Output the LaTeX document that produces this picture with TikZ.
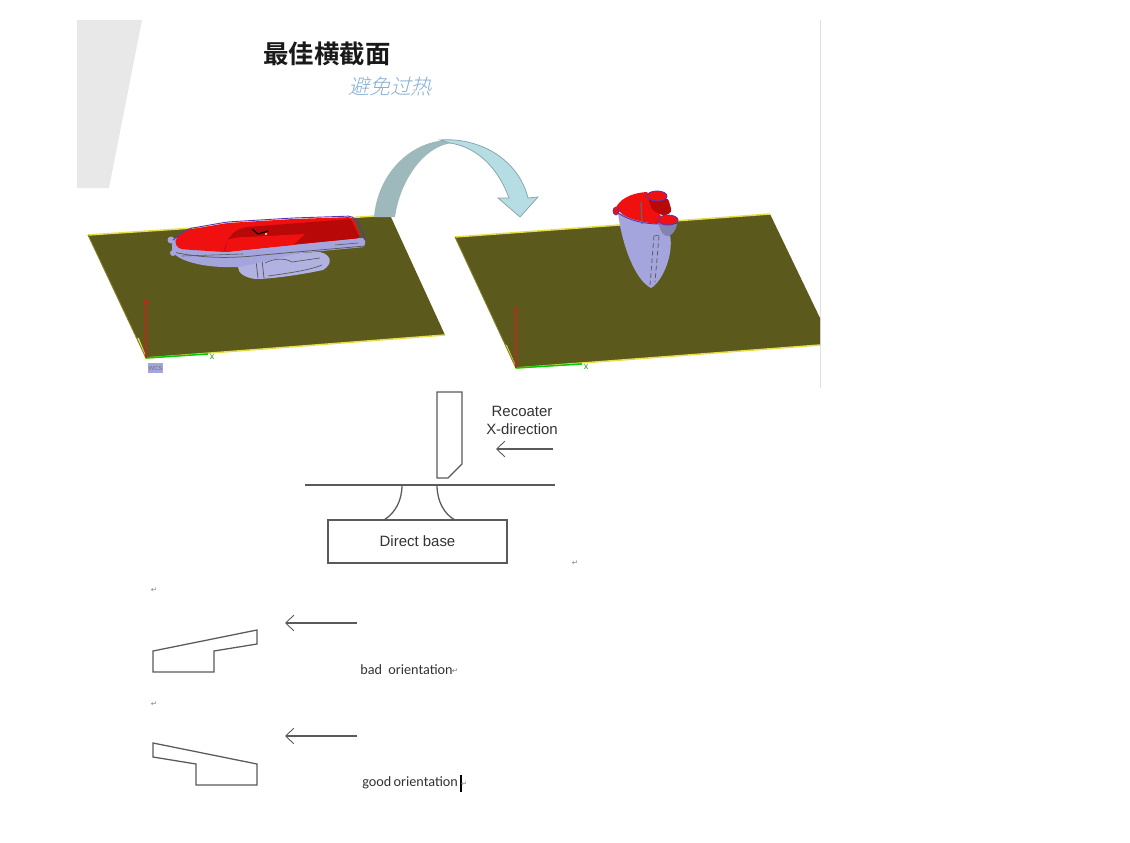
\documentclass[tikz,border=0pt]{standalone}
\usepackage{fontspec}
\setmainfont{Liberation Sans}
\newfontfamily\cjkbold[BoldFont=Noto Sans CJK SC Bold]{Noto Sans CJK SC}
\newfontfamily\cjkslant[FakeSlant=0.25]{Noto Sans CJK SC Light}
\newfontfamily\wordfont{Carlito}
\newfontfamily\markfont{DejaVu Sans}
\usetikzlibrary{arrows.meta}
\definecolor{plateolive}{HTML}{5C591C}
\definecolor{edgeyellow}{HTML}{E4DE4A}
\definecolor{hullred}{HTML}{F01010}
\definecolor{deepred}{HTML}{B80808}
\definecolor{hulllav}{HTML}{A3A5DC}
\definecolor{rimblue}{HTML}{5A35B0}
\definecolor{darkband}{HTML}{9DB9BB}
\definecolor{lightband}{HTML}{B6DDE4}
\definecolor{bandedge}{HTML}{86A5AA}
\definecolor{subblue}{HTML}{86AED3}
\definecolor{linegray}{HTML}{5A5A5A}
\definecolor{axisred}{HTML}{B03020}
\tikzset{
  outline/.style={draw=linegray,line width=0.85pt},
  pushline/.style={draw=linegray,line width=0.75pt,-{Straight Barb[length=5.5pt,width=10.5pt,line width=0.6pt]}},
  plateedge/.style={edgeyellow,line width=1pt},
  retmark/.style={font=\markfont\fontsize{5}{6}\selectfont,text=gray,inner sep=0pt},
  caption/.style={font=\wordfont\fontsize{9.5}{11}\selectfont,text=black!80,inner sep=0pt},
  sketchtext/.style={inner sep=0pt,text=black!80},
}
\begin{document}
\begin{tikzpicture}[x=0.0235cm,y=-0.0235cm,font=\fontsize{10}{12}\selectfont]
  \useasboundingbox (0,0) rectangle (1130,843);
  \fill[white] (0,0) rectangle (1130,843);
  % slide leftovers
  \fill[black!9] (77,20)--(142,20)--(109,188)--(77,188)--cycle;
  \draw[black!12,line width=0.6pt] (820.5,20)--(820.5,388);
  \node[font=\cjkbold\bfseries\fontsize{17}{20}\selectfont,text=black!90] (headline) at (327,54) {最佳横截面};
  \node[font=\cjkslant\fontsize{14}{16}\selectfont,text=subblue] (subhead) at (390,87) {避免过热};
  % left plate
  \fill[plateolive] (88,235)--(390,215)--(445,335)--(146,358)--cycle;
  \draw[plateedge] (88,235)--(390,215);
  \draw[plateedge] (445,335)--(146,358)--(138,338);
  \draw[plateolive!70!edgeyellow,line width=0.6pt] (88,235)--(146,358);
  \draw[green!80!black,line width=1pt] (146,358)--(208,354);
  \draw[axisred,line width=0.8pt] (146,358)--(146,303);
  \fill[axisred] (143,303)--(149,303)--(146,298)--cycle;
  \node[text=green!70!black,font=\fontsize{6}{7}\selectfont,inner sep=0pt] (xleft) at (212,357) {x};
  \node[fill=hulllav,text=black!55,font=\fontsize{4}{5}\selectfont,inner sep=0pt,minimum width=10pt,minimum height=6.5pt] (wcsbox) at (155.5,368) {WCS};
  % flat part
  \fill[hulllav!85!white] (238,267) .. controls (244,259) and (300,252) .. (320,252)
    .. controls (332,255) and (333,264) .. (323,270) .. controls (300,275) and (270,279) .. (256,279)
    .. controls (245,278) and (238,273) .. (238,267)--cycle;
  \draw[linegray,line width=0.5pt] (256,261)--(258,278) (262,260)--(264,278);
  \draw[linegray,line width=0.45pt] (265,263) .. controls (275,258) and (285,258) .. (292,262)--(320,258)
    (268,276) .. controls (290,273) and (310,270) .. (322,265);
  \fill[hulllav,rounded corners=2pt] (172,252) .. controls (183,262) and (205,268) .. (240,267)--(300,253)--(365,247)--(365,238)--(172,238)--cycle;
  \draw[linegray,line width=0.5pt] (173,252) .. controls (200,258) and (230,259) .. (262,255)--(365,246);
  \draw[linegray,line width=0.4pt] (182,256)--(243,254) (335,245)--(358,243);
  \fill[hulllav] (171,240) circle (3.5) (173,253) circle (3);
  \fill[hullred,rounded corners=3pt] (174,240)--(187,230)--(227,223)--(293,219)--(353,217)--(361,238)--(270,247)--(224,252)--(178,249)--cycle;
  \fill[deepred,rounded corners=1pt] (224,252) .. controls (226,240) and (232,230) .. (247,227)--(351,219)--(360,238)--(270,247)--cycle;
  \fill[hullred] (227,240) .. controls (232,238) and (240,237) .. (247,237)--(305,234)--(293,245)--(225,252)--cycle;
  \draw[rimblue,line width=0.6pt,rounded corners=3pt] (173,240)--(187,229)--(227,222)--(293,218)--(353,216)--(362,230)--(365,240);
  \draw[black,line width=0.8pt] (252,229)--(258,234)--(268,231);
  \fill[white] (266,234) circle (1.2);
  % right plate
  \fill[plateolive] (455,237)--(770,214)--(820,318)--(820,345)--(516,368)--cycle;
  \draw[plateedge] (455,237)--(770,214);
  \draw[plateedge] (820,345)--(516,368)--(506,345);
  \draw[plateolive!70!edgeyellow,line width=0.6pt] (455,237)--(516,368);
  \draw[green!80!black,line width=1pt] (516,368)--(582,364);
  \draw[axisred,line width=0.7pt] (516,368)--(516,311);
  \fill[axisred] (514,311)--(518,311)--(516,306)--cycle;
  \node[text=green!70!black,font=\fontsize{6}{7}\selectfont,inner sep=0pt] (xright) at (586,367) {x};
  % upright part
  \fill[hulllav] (618,213) .. controls (622,245) and (635,280) .. (651,288)
    .. controls (662,282) and (674,255) .. (670,235)--(660,220)--cycle;
  \draw[linegray,line width=0.5pt,densely dashed] (654,236)--(650,285) (659,236)--(655,282);
  \draw[linegray,line width=0.4pt] (654,236)--(659,235);
  \fill[hulllav!80!black] (659,224) .. controls (660,232) and (664,237) .. (669,236) .. controls (673,234) and (676,230) .. (677,224)--cycle;
  \fill[hullred] (615,210) .. controls (618,200) and (630,193) .. (647,192)--(654,205)--(662,218)--(658,224)
    .. controls (640,222) and (625,218) .. (620,212)--cycle;
  \draw[rimblue,line width=0.6pt] (618,213) .. controls (630,221) and (645,224) .. (660,224);
  \draw[black!60,line width=0.8pt] (641,202)--(642,224);
  \fill[deepred,rounded corners=2pt] (648,198)--(668,198)--(672,212)--(664,216)--(652,210)--cycle;
  \filldraw[fill=hullred,draw=rimblue,line width=0.6pt] (657,196) ellipse (10 and 5);
  \filldraw[fill=hullred,draw=rimblue,line width=0.6pt] (668,220) ellipse (10 and 5);
  \filldraw[fill=hullred,draw=rimblue,line width=0.5pt] (616,211) ellipse (3 and 4);
  % turn-over arrow
  \fill[darkband] (374,217) .. controls (378,172) and (412,140) .. (450,140)--(453,143)
    .. controls (425,145) and (400,180) .. (395,217)--cycle;
  \filldraw[fill=lightband,draw=bandedge,line width=0.5pt] (440,140) .. controls (478,137) and (518,158) .. (528,198)
    --(538,197)--(520,217)--(498,198)--(509,198) .. controls (495,160) and (470,146) .. (450,143)--cycle;
  % recoater sketch
  \draw[outline] (437,392)--(462,392)--(462,464)--(448,478)--(437,478)--cycle;
  \coordinate (floorleft) at (305,485);
  \coordinate (floorright) at (555,485);
  \draw[outline] (floorleft)--(floorright);
  \node[outline,sketchtext,minimum width=179*0.0235cm,minimum height=43*0.0235cm] (basebox) at (417.5,541.5) {Direct base};
  \draw[outline] (402,485) .. controls (402,501) and (395,513) .. (384,520);
  \draw[outline] (437,485) .. controls (437,501) and (444,514) .. (455,520);
  \node[sketchtext] (recoaterlabel) at (522,411) {Recoater};
  \node[sketchtext] (dirlabel) at (522,429) {X-direction};
  \coordinate (recoatertail) at (553,449);
  \coordinate (recoaterhead) at (496,449);
  \draw[pushline] (recoatertail)--(recoaterhead);
  % bad and good orientation
  \draw[outline] (153,651)--(257,630)--(257,644)--(214,651)--(214,672)--(153,672)--cycle;
  \draw[outline] (153,743)--(257,764)--(257,785)--(196,785)--(196,764)--(153,757)--cycle;
  \foreach \yy/\nm in {623/bad,736/good}{
    \coordinate (\nm tail) at (357,\yy);
    \coordinate (\nm head) at (285,\yy);
    \draw[pushline] (\nm tail)--(\nm head);
  }
  \node[caption,anchor=west] (badlabel) at (360,670) {bad\ \ orientation};
  \node[caption,anchor=west] (goodlabel) at (362,783) {good\,orientation};
  \draw[black,line width=0.9pt] (461,775)--(461,792);
  \foreach \mx/\my/\nm in {575/563/a,154/590/b,154/704/c,455/671/d,464/784/e}
    \node[retmark] (ret\nm) at (\mx,\my) {↵};
\end{tikzpicture}
\end{document}
